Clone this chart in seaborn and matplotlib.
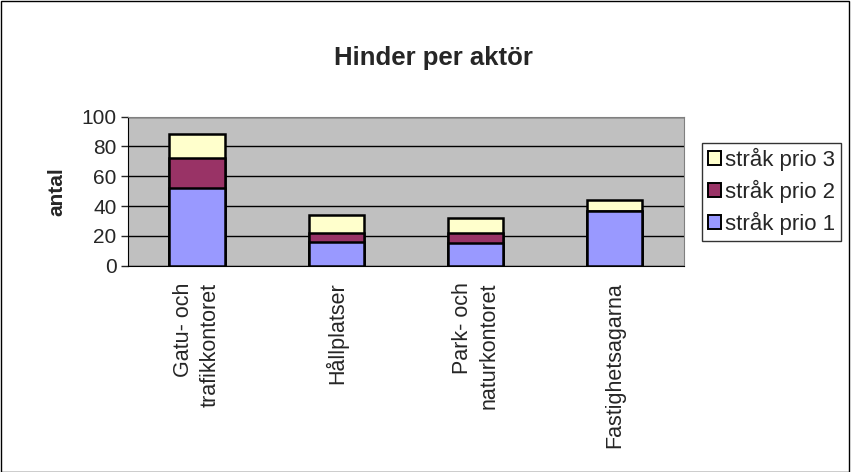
import numpy as np
import pandas as pd
import matplotlib.pyplot as plt
import seaborn as sns
from matplotlib.patches import Patch, Rectangle

# data
aktorer = ["Gatu- och\ntrafikkontoret", "Hållplatser", "Park- och\nnaturkontoret", "Fastighetsagarna"]
prio1 = [52, 16, 15, 37]
prio2 = [20, 6, 7, 0]
prio3 = [16, 12, 10, 7]
serier = ["stråk prio 1", "stråk prio 2", "stråk prio 3"]
farger = ["#9999FF", "#993366", "#FFFFCC"]

sns.set_style("white")
plt.rcParams['font.family'] = ['Liberation Sans', 'DejaVu Sans']

df = pd.DataFrame({"aktor": aktorer, "p1": prio1, "p2": prio2, "p3": prio3})
df["c1"] = df["p1"]
df["c2"] = df["p1"] + df["p2"]
df["c3"] = df["c2"] + df["p3"]

fig = plt.figure(figsize=(8.51, 4.72), dpi=100)
ax = fig.add_axes([0.150, 0.437, 0.654, 0.316])
fig.patches.append(Rectangle((0.001, 0.001), 0.997, 0.997, transform=fig.transFigure,
                             fill=False, edgecolor="black", linewidth=1))

# staplade staplar: ritar totalen först
for col, c in zip(["c3", "c2", "c1"], farger[::-1]):
    sns.barplot(data=df, x="aktor", y=col, color=c, width=0.4, saturation=1,
                edgecolor="black", linewidth=1.8, ax=ax, zorder=3)

ax.set_facecolor("#C0C0C0")
ax.set_ylim(0, 100)
ax.set_xlim(-0.5, 3.5)
ax.set_yticks(range(0, 101, 20))
ax.yaxis.grid(True, color="black", linewidth=1)
ax.set_axisbelow(True)
for s in ["top", "right"]:
    ax.spines[s].set_color("#808080")
ax.spines["left"].set_color("black")
ax.spines["bottom"].set_color("black")

ax.set_xticks(range(4))
ax.set_xticklabels(aktorer, rotation=90, fontsize=15.5, va="top", ha="center",
                   multialignment="right", linespacing=1.35)
ax.set_xticks(np.arange(-0.5, 4, 1), minor=True)
ax.tick_params(axis="x", which="major", length=0, pad=12)
ax.tick_params(axis="x", which="minor", length=5, width=1, direction="out")
ax.tick_params(axis="y", length=5, width=1, direction="out", labelsize=15, left=True, pad=3)

ax.set_xlabel("")
ax.set_ylabel("antal", fontsize=15, fontweight="bold", labelpad=11)
fig.text(0.509, 0.878, "Hinder per aktör", ha="center", va="center",
         fontsize=18.5, fontweight="bold")

handles = [Patch(facecolor=c, edgecolor="black", linewidth=1.4, label=s)
           for s, c in zip(serier[::-1], farger[::-1])]
leg = fig.legend(handles=handles, loc="center left", bbox_to_anchor=(0.825, 0.594),
                 fontsize=16, frameon=True, fancybox=False, handlelength=0.6,
                 handleheight=0.6, handletextpad=0.2, borderpad=0.25, labelspacing=0.4,
                 borderaxespad=0)
leg.get_frame().set_edgecolor("black")
leg.get_frame().set_linewidth(1)

fig.savefig("out.png", dpi=100)
